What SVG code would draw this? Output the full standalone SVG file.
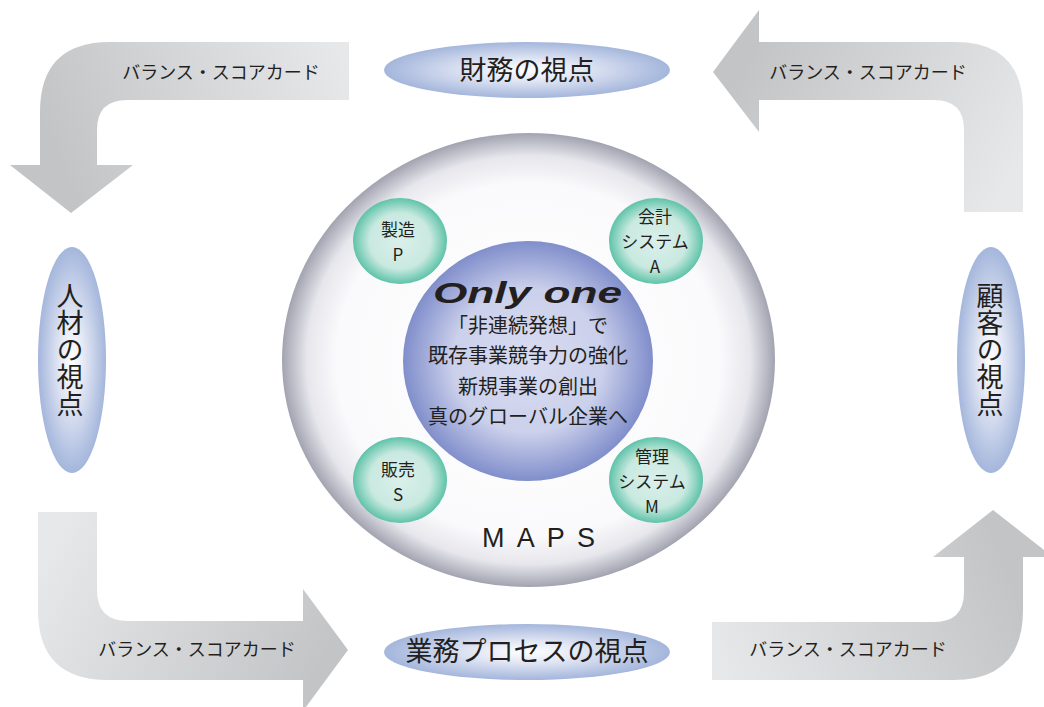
<svg xmlns="http://www.w3.org/2000/svg" width="1044" height="707" viewBox="0 0 1044 707">
<defs>
<linearGradient id="gTL" gradientUnits="userSpaceOnUse" x1="349" y1="70" x2="70" y2="190"><stop offset="0" stop-color="#e7e8ea"/><stop offset="1" stop-color="#c3c4c6"/></linearGradient>
<linearGradient id="gTR" gradientUnits="userSpaceOnUse" x1="993" y1="212" x2="740" y2="72"><stop offset="0" stop-color="#e7e8ea"/><stop offset="1" stop-color="#c3c4c6"/></linearGradient>
<linearGradient id="gBL" gradientUnits="userSpaceOnUse" x1="68" y1="512" x2="330" y2="650"><stop offset="0" stop-color="#e7e8ea"/><stop offset="1" stop-color="#c3c4c6"/></linearGradient>
<linearGradient id="gBR" gradientUnits="userSpaceOnUse" x1="712" y1="650" x2="993" y2="530"><stop offset="0" stop-color="#e7e8ea"/><stop offset="1" stop-color="#c3c4c6"/></linearGradient>
<radialGradient id="gView"><stop offset="0" stop-color="#ffffff"/><stop offset="0.35" stop-color="#e5e9f5"/><stop offset="1" stop-color="#a4b6dc"/></radialGradient>
<radialGradient id="gBig"><stop offset="0" stop-color="#ffffff"/><stop offset="0.78" stop-color="#fafafc"/><stop offset="0.9" stop-color="#e6e6ec"/><stop offset="1" stop-color="#a2a3b0"/></radialGradient>
<radialGradient id="gBlue"><stop offset="0" stop-color="#d9dcf0"/><stop offset="0.6" stop-color="#cbd0eb"/><stop offset="1" stop-color="#808ecb"/></radialGradient>
<radialGradient id="gGreen"><stop offset="0" stop-color="#daf0ea"/><stop offset="0.65" stop-color="#c9e9e0"/><stop offset="1" stop-color="#5fc3a9"/></radialGradient>
<style>
.jp{font-family:"Noto Sans CJK JP","Noto Sans CJK SC",sans-serif;fill:#231f20;text-anchor:middle}
.bsc{font-size:18px}
.view{font-size:27px}
.vert{font-size:27px;writing-mode:vertical-rl}
.center{font-size:20px}
.small{font-size:17px}
.lat{font-family:"Liberation Sans",Arial,sans-serif;fill:#231f20}
</style>
</defs>
<g id="connectors">
<g id="arrow-tl">
<path d="M349,42 L110,42 Q40,42 40,112 L40,165 L10,165 L71,213 L133,165 L97,165 L97,130 Q97,100 127,100 L349,100 Z" fill="url(#gTL)"/>
<text class="jp bsc" x="221" y="79">バランス・スコアカード</text>
</g>
<g id="arrow-tr">
<path d="M1023,212 L1023,110 Q1023,42 955,42 L759,42 L759,10 L713,72 L759,132 L759,100 L934,100 Q964,100 964,130 L964,212 Z" fill="url(#gTR)"/>
<text class="jp bsc" x="868" y="79">バランス・スコアカード</text>
</g>
<g id="arrow-bl">
<path d="M38,512 L97,512 L97,590 Q97,621 128,621 L303,621 L303,589 L348,650 L303,711 L303,680 L108,680 Q38,680 38,610 Z" fill="url(#gBL)"/>
<text class="jp bsc" x="197" y="656">バランス・スコアカード</text>
</g>
<g id="arrow-br">
<path d="M712,622 L934,622 Q964,622 964,592 L964,557 L933,557 L993,510 L1053,557 L1023,557 L1023,610 Q1023,680 953,680 L712,680 Z" fill="url(#gBR)"/>
<text class="jp bsc" x="848" y="656">バランス・スコアカード</text>
</g>
</g>
<g id="node-finance">
<ellipse cx="527" cy="70" rx="143" ry="28" fill="url(#gView)"/>
<text class="jp view" x="527" y="80">財務の視点</text>
</g>
<g id="node-process">
<ellipse cx="527" cy="652" rx="143" ry="28" fill="url(#gView)"/>
<text class="jp view" x="527" y="661">業務プロセスの視点</text>
</g>
<g id="node-people">
<ellipse cx="72" cy="360" rx="34" ry="113" fill="url(#gView)"/>
<text class="jp vert" x="70" y="350">人材の視点</text>
</g>
<g id="node-customer">
<ellipse cx="991" cy="360" rx="34" ry="113" fill="url(#gView)"/>
<text class="jp vert" x="990" y="350">顧客の視点</text>
</g>
<g id="node-maps">
<ellipse cx="528.5" cy="360" rx="246.5" ry="227" fill="url(#gBig)"/>
<text class="lat" x="482" y="547" font-size="27" textLength="113" lengthAdjust="spacing">MAPS</text>
</g>
<g id="node-core">
<ellipse cx="528" cy="361" rx="125" ry="120" fill="url(#gBlue)"/>
<text class="lat" x="433" y="303" font-size="29" font-weight="bold" font-style="italic" textLength="189" lengthAdjust="spacingAndGlyphs">Only one</text>
<text class="jp center" x="528" y="333">「非連続発想」で</text>
<text class="jp center" x="528" y="363">既存事業競争力の強化</text>
<text class="jp center" x="528" y="394">新規事業の創出</text>
<text class="jp center" x="528" y="424">真のグローバル企業へ</text>
</g>
<g id="node-p">
<ellipse cx="400" cy="241" rx="47" ry="43" fill="url(#gGreen)"/>
<text class="jp small" x="398" y="236">製造</text>
<text class="jp small" x="398" y="261">P</text>
</g>
<g id="node-a">
<ellipse cx="656" cy="241" rx="47" ry="43" fill="url(#gGreen)"/>
<text class="jp small" x="655" y="223">会計</text>
<text class="jp small" x="655" y="248">システム</text>
<text class="jp small" x="655" y="273">A</text>
</g>
<g id="node-s">
<ellipse cx="400" cy="480" rx="47" ry="43" fill="url(#gGreen)"/>
<text class="jp small" x="398" y="476">販売</text>
<text class="jp small" x="398" y="501">S</text>
</g>
<g id="node-m">
<ellipse cx="656" cy="480" rx="47" ry="43" fill="url(#gGreen)"/>
<text class="jp small" x="652" y="463">管理</text>
<text class="jp small" x="652" y="488">システム</text>
<text class="jp small" x="652" y="513">M</text>
</g>
</svg>
